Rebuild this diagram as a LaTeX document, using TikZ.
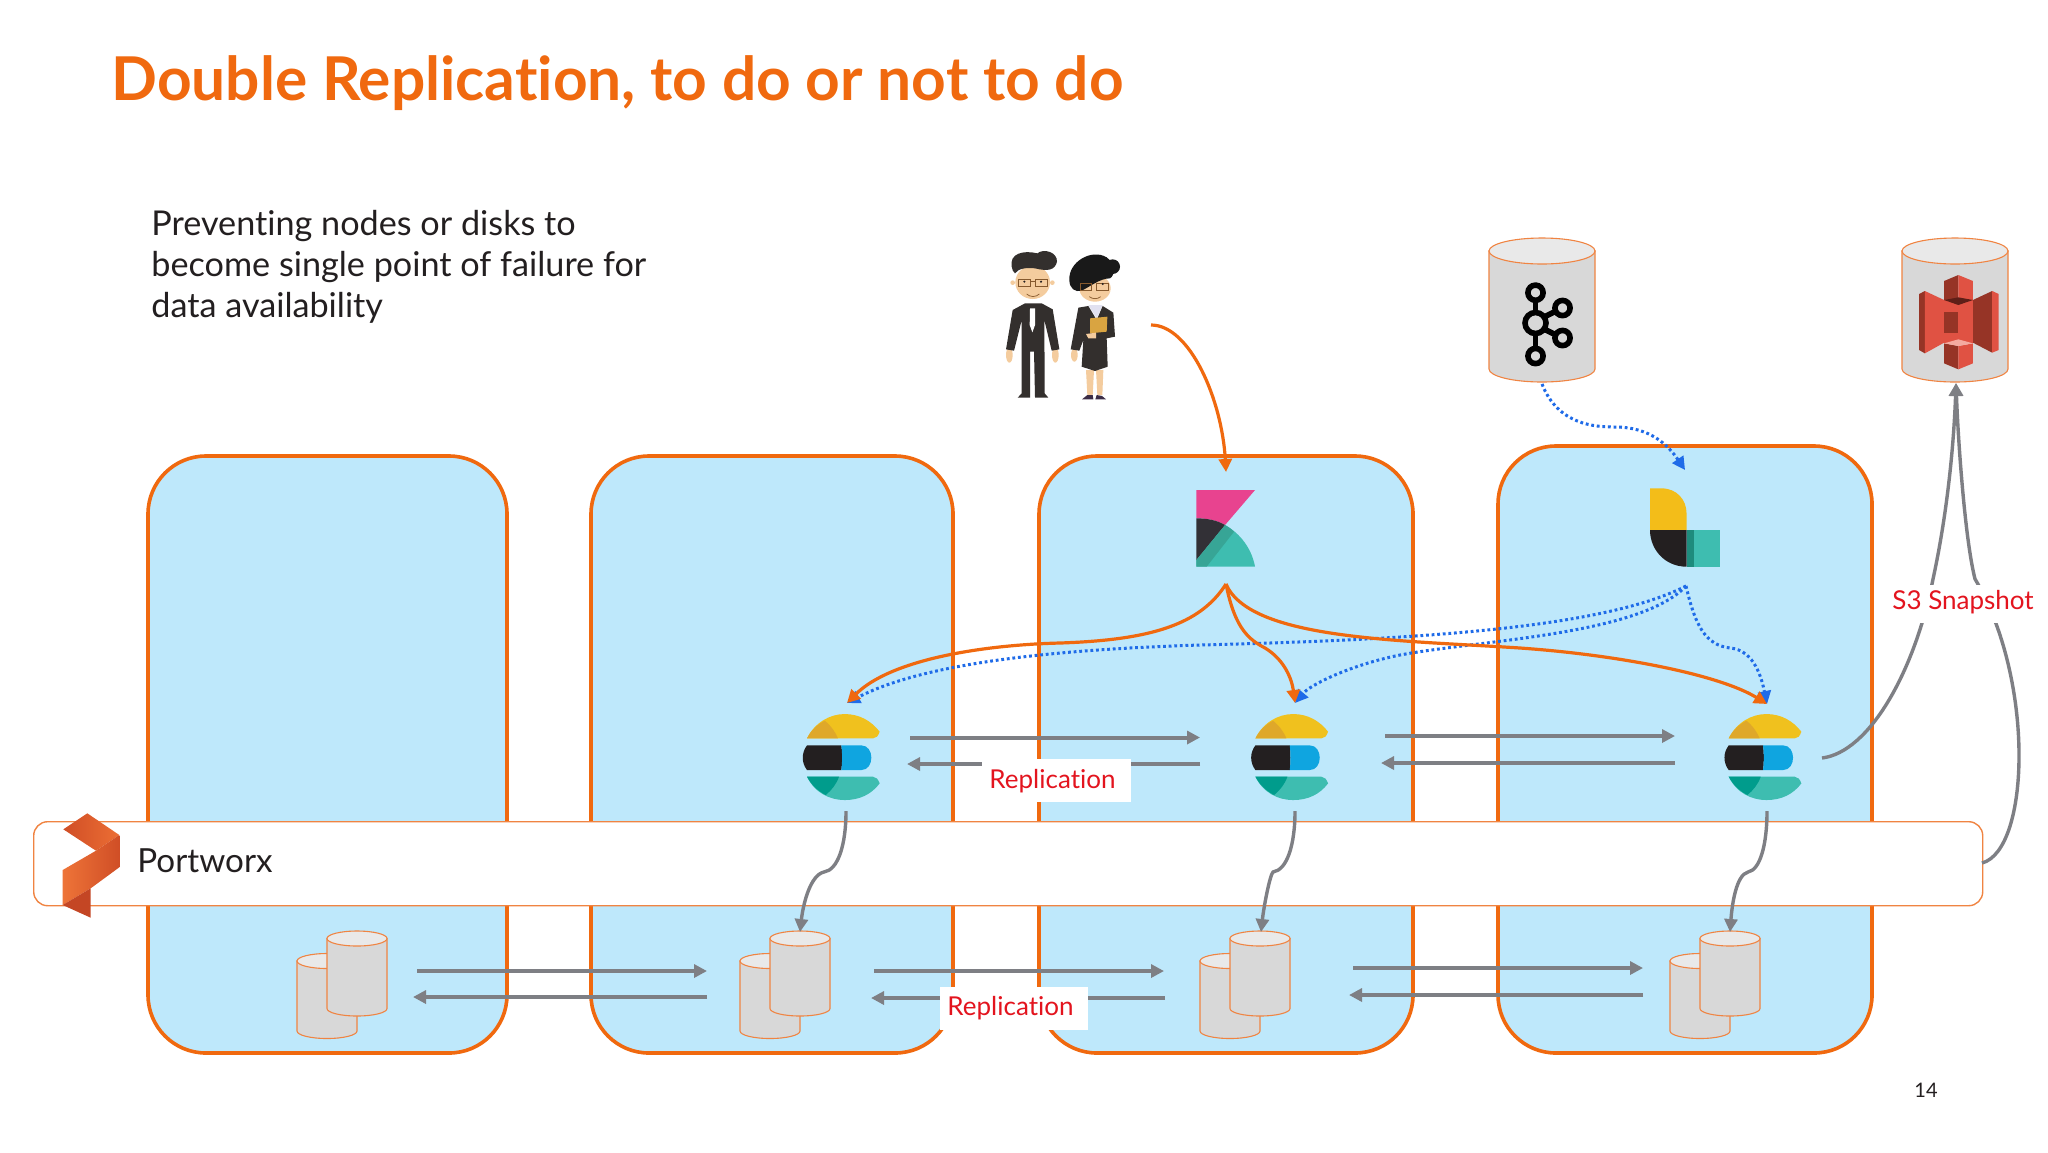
\documentclass[tikz,border=0pt]{standalone}
\usepackage{fontspec}
\setmainfont{Lato}[Ligatures=NoCommon]
\usetikzlibrary{arrows.meta,calc}
\definecolor{ing}{HTML}{F0690F}
\definecolor{ingthin}{HTML}{F08442}
\definecolor{sky}{HTML}{BEE8FB}
\definecolor{gr}{HTML}{7E7F84}
\definecolor{rd}{HTML}{E3141E}
\definecolor{bl}{HTML}{1F6BE8}
\definecolor{cyl}{HTML}{D8D8D8}
\definecolor{cyltop}{HTML}{E9E9E9}
\definecolor{ink}{HTML}{231F20}
\definecolor{skin}{HTML}{F4CC9E}
\definecolor{suit}{HTML}{332F2D}
\tikzset{
  zone/.style={draw=ing,fill=sky,line width=1.8pt,rounded corners=29pt},
  bar/.style={draw=ingthin,fill=white,line width=0.7pt,rounded corners=7pt},
  repl/.style={draw=gr,line width=2pt,-{Triangle[length=6.5pt,width=6.5pt]}},
  link/.style={draw=gr,line width=1.7pt,-{Triangle[length=6.5pt,width=6.5pt]}},
  orangeflow/.style={draw=ing,line width=1.6pt,-{Triangle[length=6.5pt,width=6.5pt]}},
  blueflow/.style={draw=bl,line width=1.5pt,dash pattern=on 1.4pt off 1.4pt,-{Triangle[length=6.5pt,width=6.5pt]}},
  tag/.style={fill=white,inner sep=0pt,minimum width=#1,minimum height=21.5pt},
  redtxt/.style={text=rd,font=\fontsize{13pt}{16pt}\selectfont,anchor=base west,inner sep=0pt},
  bodytxt/.style={anchor=base west,inner sep=0pt,text=ink,font=\fontsize{17.1pt}{20pt}\selectfont},
  zA/.style={shift={(950,220)},x=0.16667pt,y=-0.16667pt},
  zB/.style={shift={(1450,220)},x=0.19231pt,y=-0.16667pt},
  tiny line/.style={line width=0.35pt}
}
\tikzset{HTML1/.style={fill={rgb,255:red,240;green,193;blue,30}},
HTML2/.style={fill={rgb,255:red,223;green,168;blue,42}},
HTML3/.style={fill={rgb,255:red,15;green,165;blue,224}},
HTML4/.style={fill={rgb,255:red,62;green,189;blue,176}},
HTML5/.style={fill={rgb,255:red,0;green,156;blue,140}},
s3dark/.style={fill={rgb,255:red,150;green,52;blue,38}},
s3light/.style={fill={rgb,255:red,224;green,82;blue,67}}}
\newcommand{\elasticlogo}[2]{%
 \begin{scope}[shift={(#1,#2)},x=0.16667pt,y=-0.16667pt]
  \fill[HTML1] (-108,-58) .. controls (-85,-105) and (-40,-131) .. (5,-131) .. controls (50,-131) and (85,-110) .. (110,-78) .. controls (105,-65) and (100,-58) .. (90,-58) -- cycle;
  \fill[HTML2] (-108,-58) .. controls (-95,-85) and (-75,-100) .. (-55,-111) .. controls (-35,-95) and (-22,-75) .. (-15,-58) -- cycle;
  \fill[ink] (-5,-37) -- (-108,-37) .. controls (-125,-15) and (-125,15) .. (-108,37) -- (-5,37) .. controls (-2,15) and (-2,-15) .. (-5,-37) -- cycle;
  \fill[HTML3] (-5,-37) -- (55,-37) .. controls (95,-37) and (95,37) .. (55,37) -- (-5,37) .. controls (-2,15) and (-2,-15) .. (-5,-37) -- cycle;
  \fill[HTML4] (-108,57) -- (90,57) .. controls (100,57) and (105,65) .. (110,77) .. controls (85,110) and (50,127) .. (5,127) .. controls (-40,127) and (-85,105) .. (-108,57) -- cycle;
  \fill[HTML5] (-108,57) -- (-12,57) .. controls (-20,80) and (-35,98) .. (-52,112) .. controls (-75,100) and (-95,82) .. (-108,57) -- cycle;
 \end{scope}}
\newcommand{\can}[5]{%
 \path[draw=ingthin,fill=cyl,line width=0.55pt] (#1-#3,#2) -- (#1-#3,#2+#5) arc[start angle=180,end angle=360,x radius=#3,y radius=-#4] -- (#1+#3,#2) -- cycle;
 \path[draw=ingthin,fill=cyltop,line width=0.55pt] (#1,#2) ellipse[x radius=#3,y radius=#4];}
\newcommand{\canpair}[1]{%
 \can{#1-30}{961}{30}{7.5}{70}
 \can{#1}{938.5}{30}{7.5}{70}}
\begin{document}
\begin{tikzpicture}[x=0.5pt,y=-0.5pt]
\useasboundingbox (0,0) rectangle (2048,1152);
\fill[white] (0,0) rectangle (2048,1152);

% zones
\path[zone] (148,456) rectangle (507,1053);
\path[zone] (591,456) rectangle (953,1053);
\path[zone] (1039,456) rectangle (1413,1053);
\path[zone] (1498,446) rectangle (1872,1053);

% Portworx bar
\node[bar,anchor=north west,minimum width=974.5pt,minimum height=42pt,inner sep=0pt] (pxbar) at (33,821) {};
\shade[left color={rgb,255:red,208;green,78;blue,38},right color={rgb,255:red,236;green,110;blue,52}] (63.3,829.3) -- (87.3,813.3) -- (119.3,835) -- (96,850.7) -- cycle;
\shade[left color={rgb,255:red,238;green,116;blue,56},right color={rgb,255:red,208;green,78;blue,38}] (62.7,870) -- (96,850.7) -- (119.3,835) -- (119.3,867.3) -- (90.7,888.3) -- (62.7,905) -- cycle;
\fill[fill={rgb,255:red,196;green,70;blue,36}] (62.7,905) -- (90.7,888.3) -- (90.7,917.7) -- cycle;
\node[bodytxt,font=\fontsize{16.6pt}{20pt}\selectfont] (pxlabel) at (137,872) {Portworx};

% Title and intro
\node[anchor=base west,inner sep=0pt,text=ing,font=\bfseries\fontsize{30.2pt}{34pt}\selectfont] (title) at (111,100) {Double Replication, to do or not to do};
\node[bodytxt] (introa) at (151,235) {Preventing nodes or disks to};
\node[bodytxt] (introb) at (151,276) {become single point of failure for};
\node[bodytxt] (introc) at (151,317) {data availability};
\node[anchor=base,inner sep=0pt,text=ink,font=\fontsize{10pt}{12pt}\selectfont] (pagenum) at (1926,1097) {14};

% people
\begin{scope}[zA]
 \fill[skin] (248,187) ellipse[x radius=52,y radius=50];
 \fill[skin] (188,188) circle[radius=7]; \fill[skin] (307,188) circle[radius=7];
 \fill[suit] (185,140) .. controls (178,100) and (220,90) .. (262,100) .. controls (280,85) and (322,95) .. (321,125) .. controls (315,150) and (295,155) .. (255,145) .. controls (230,142) and (205,145) .. (195,160) .. controls (190,155) and (186,150) .. (185,140) -- cycle;
 \draw[draw=brown!70!black,tiny line] (205,177) rectangle (241,199) (255,177) rectangle (291,199) (241,185) -- (255,185);
 \fill[ink] (223,185) circle[radius=3.5]; \fill[ink] (273,185) circle[radius=3.5];
 \draw[draw=brown!70!black,tiny line] (230,222) .. controls (240,232) and (258,232) .. (268,222);
 \fill[skin] (178,405) ellipse[x radius=10,y radius=23]; \fill[skin] (316,405) ellipse[x radius=10,y radius=23];
 \fill[suit] (225,250) -- (275,250) -- (308,268) -- (328,388) -- (305,392) -- (283,300) -- (284,520) -- (295,533) -- (255,533) -- (252,395) -- (240,395) -- (240,533) -- (203,533) -- (215,520) -- (215,300) -- (192,392) -- (168,388) -- (188,270) -- cycle;
 \fill[white] (240,265) -- (255,265) -- (255,315) -- (247,337) -- (239,315) -- cycle;
 \fill[skin] (408,450) -- (432,450) -- (428,525) -- (412,525) -- cycle;
 \fill[skin] (438,450) -- (460,450) -- (457,525) -- (442,525) -- cycle;
 \fill[fill={rgb,255:red,60;green,45;blue,70}] (396,538) -- (412,525) -- (428,525) -- (430,538) -- cycle;
 \fill[fill={rgb,255:red,60;green,45;blue,70}] (436,538) -- (440,525) -- (456,528) -- (468,538) -- cycle;
 \fill[skin] (435,205) ellipse[x radius=47,y radius=40];
 \fill[skin] (373,405) ellipse[x radius=10,y radius=20];
 \fill[fill={rgb,255:red,225;green,225;blue,240}] (415,255) -- (458,255) -- (440,295) -- cycle;
 \fill[suit] (385,263) -- (415,258) -- (440,300) -- (458,258) -- (490,278) -- (495,350) -- (470,355) -- (473,440) -- (435,453) -- (395,440) -- (400,360) -- (388,392) -- (362,388) -- cycle;
 \fill[fill={rgb,255:red,217;green,164;blue,65}] (420,295) -- (472,290) -- (470,335) -- (420,340) -- cycle;
 \fill[skin] (408,342) -- (438,338) -- (438,355) -- (415,355) -- cycle;
 \fill[fill=black!90] (488,140) circle[radius=22];
 \fill[fill=black!90] (358,180) .. controls (355,125) and (425,85) .. (470,112) .. controls (495,130) and (497,165) .. (480,175) .. controls (450,175) and (420,200) .. (395,212) .. controls (375,218) and (358,205) .. (358,180) -- cycle;
 \draw[draw=brown!70!black,tiny line] (392,190) rectangle (424,211) (438,190) rectangle (476,211);
 \fill[ink] (458,192) circle[radius=3.5];
 \draw[draw=brown!70!black,tiny line] (418,230) .. controls (428,238) and (442,238) .. (452,230);
\end{scope}

% Kibana logo
\begin{scope}[zA]
 \fill[fill={rgb,255:red,232;green,67;blue,143}] (739,810) -- (915,810) -- (825,915) .. controls (800,900) and (770,895) .. (739,895) -- cycle;
 \fill[fill={rgb,255:red,62;green,189;blue,176}] (825,915) .. controls (870,940) and (905,985) .. (915,1040) -- (739,1040) -- (739,1020) -- cycle;
 \fill[fill={rgb,255:red,50;green,48;blue,54}] (739,895) .. controls (770,895) and (800,900) .. (825,915) -- (739,1020) -- cycle;
 \fill[fill={rgb,255:red,55;green,165;blue,150}] (825,915) .. controls (835,920) and (843,927) .. (852,935) -- (770,1040) -- (739,1040) -- (739,1020) -- cycle;
\end{scope}
% Logstash logo
\begin{scope}[zB]
 \fill[fill={rgb,255:red,243;green,189;blue,25}] (520,805) -- (550,805) .. controls (590,805) and (615,840) .. (615,880) -- (615,930) -- (520,930) -- cycle;
 \fill[ink] (520,930) -- (615,930) -- (615,1040) .. controls (560,1040) and (520,990) .. (520,930) -- cycle;
 \fill[fill={rgb,255:red,62;green,189;blue,176}] (615,930) rectangle (701,1040);
 \fill[fill={rgb,255:red,30;green,140;blue,125}] (615,930) rectangle (635,1040);
\end{scope}

% Elastic logos
\elasticlogo{843}{757.7}
\elasticlogo{1291.4}{757.7}
\elasticlogo{1764.7}{757.7}

% top cans
\can{1542}{251}{53}{13}{118}
\can{1955}{251}{53}{13}{118}
% Kafka logo
\begin{scope}[draw=black,line width=2.8pt]
 \draw (1535.5,296) -- (1535.5,352);
 \draw (1544,317) -- (1556,311);
 \draw (1544,329) -- (1556,335);
 \filldraw[fill=cyl] (1535.5,292.7) circle[radius=7.6];
 \filldraw[fill=cyl] (1535.5,323) circle[radius=10.5];
 \filldraw[fill=cyl] (1562.5,308) circle[radius=7.6];
 \filldraw[fill=cyl] (1562.5,338) circle[radius=7.6];
 \filldraw[fill=cyl] (1535.5,356) circle[radius=7.6];
\end{scope}
% S3 logo
\begin{scope}[zB,xshift=-2pt]
 \fill[s3dark] (1230,222) -- (1245,213) -- (1245,400) -- (1230,390) -- cycle;
 \fill[s3light] (1245,213) -- (1295,240) -- (1295,368) -- (1245,400) -- cycle;
 \fill[s3dark] (1370,240) -- (1420,213) -- (1420,398) -- (1370,368) -- cycle;
 \fill[s3light] (1420,213) -- (1437,222) -- (1437,390) -- (1420,398) -- cycle;
 \fill[s3light] (1295,240) rectangle (1370,368);
 \fill[s3dark] (1295,183) -- (1332,165) -- (1332,240) -- (1295,240) -- cycle;
 \fill[s3light] (1332,165) -- (1370,183) -- (1370,240) -- (1332,240) -- cycle;
 \fill[fill={rgb,255:red,94;green,31;blue,24}] (1295,240) -- (1332,232) -- (1370,240) -- (1332,255) -- cycle;
 \fill[s3dark] (1295,275) rectangle (1332,340);
 \fill[s3light] (1332,275) rectangle (1370,340);
 \fill[s3dark] (1295,370) -- (1332,378) -- (1332,448) -- (1295,430) -- cycle;
 \fill[s3light] (1332,378) -- (1370,370) -- (1370,430) -- (1332,448) -- cycle;
 \fill[fill={rgb,255:red,245;green,170;blue,160}] (1295,370) -- (1332,358) -- (1370,370) -- (1332,378) -- cycle;
\end{scope}

% disk cans
\canpair{357}
\canpair{800}
\canpair{1260}
\canpair{1730}

% named connector ends
\coordinate (people) at (1151,325);
\coordinate (kibtop) at (1226,472);
\coordinate (kibout) at (1226,584);
\coordinate (lsin) at (1685,470);
\coordinate (lsout) at (1686,586);
\coordinate (kafka) at (1542,384);
\coordinate (esAin) at (847,703);
\coordinate (esBin) at (1295,703);
\coordinate (esCin) at (1767,704);
\coordinate (esAlow) at (846,811);
\coordinate (esBlow) at (1295,811);
\coordinate (esClow) at (1767,811);
\coordinate (dA) at (800,932);
\coordinate (dB) at (1261,932);
\coordinate (dC) at (1730,932);
\coordinate (esCr) at (1822,758);
\coordinate (s3) at (1956,383);
\coordinate (pxr) at (1982,863);
\foreach \n/\xa/\ya/\xb/\yb in {rA/910/737.5/1200/737.5, lA/1200/764/907/764, rB/1385/736/1675/736, lB/1675/763/1381/763, rC/417/971/707/971, lC/707/997/413/997, rD/874/971/1164/971, lD/1165/998/871/998, rE/1353/968/1643/968, lE/1643/995/1349/995}{
 \coordinate (\n s) at (\xa,\ya);
 \coordinate (\n e) at (\xb,\yb);
 \draw[repl] (\n s) -- (\n e);
}

% people to kibana
\draw[orangeflow] (people) .. controls (1190,325) and (1222,400) .. (kibtop);
% kafka to logstash
\draw[blueflow] (kafka) .. controls (1558,425) and (1595,427) .. (1615,427) .. controls (1650,427) and (1668,445) .. (lsin);
% logstash to elastic
\draw[blueflow] (lsout) .. controls (1600,630) and (1400,640) .. (1200,645) .. controls (1040,650) and (920,665) .. (esAin);
\draw[blueflow] (lsout) .. controls (1640,635) and (1480,640) .. (1400,655) .. controls (1350,665) and (1310,685) .. (esBin);
\draw[blueflow] (lsout) .. controls (1695,625) and (1705,645) .. (1730,648) .. controls (1755,650) and (1762,680) .. (esCin);
% kibana to elastic
\draw[orangeflow] (kibout) .. controls (1200,625) and (1150,640) .. (1060,643) .. controls (980,645) and (890,660) .. (esAin);
\draw[orangeflow] (kibout) .. controls (1235,630) and (1250,640) .. (1265,648) .. controls (1285,660) and (1292,680) .. (esBin);
\draw[orangeflow] (kibout) .. controls (1250,640) and (1400,640) .. (1520,648) .. controls (1620,655) and (1720,675) .. (esCin);

% elastic to disks
\draw[link] (esAlow) .. controls (846,845) and (838,870) .. (824,872) .. controls (810,875) and (803,905) .. (dA);
\draw[link] (esBlow) .. controls (1295,845) and (1287,870) .. (1273,872) .. controls (1270,875) and (1264,905) .. (dB);
\draw[link] (esClow) .. controls (1767,845) and (1760,870) .. (1748,872) .. controls (1736,875) and (1732,905) .. (dC);

% snapshot
\draw[link] (esCr) .. controls (1870,752) and (1915,670) .. (1933,579) .. controls (1948,510) and (1954,440) .. (s3);
\draw[link] (pxr) .. controls (2030,850) and (2035,680) .. (1975,579) .. controls (1965,540) and (1958,440) .. (s3);

% labels on white
\node[tag=74.5pt,anchor=north west] (replAbox) at (982,759) {};
\node[redtxt] (replA) at (989,788) {Replication};
\node[tag=74pt,anchor=north west] (replBbox) at (940,987) {};
\node[redtxt] (replB) at (947,1015) {Replication};
\node[tag=71pt,anchor=north west,minimum height=19pt] (snapbox) at (1890,585) {};
\node[redtxt] (snap) at (1892,609) {S3 Snapshot};
\end{tikzpicture}
\end{document}
